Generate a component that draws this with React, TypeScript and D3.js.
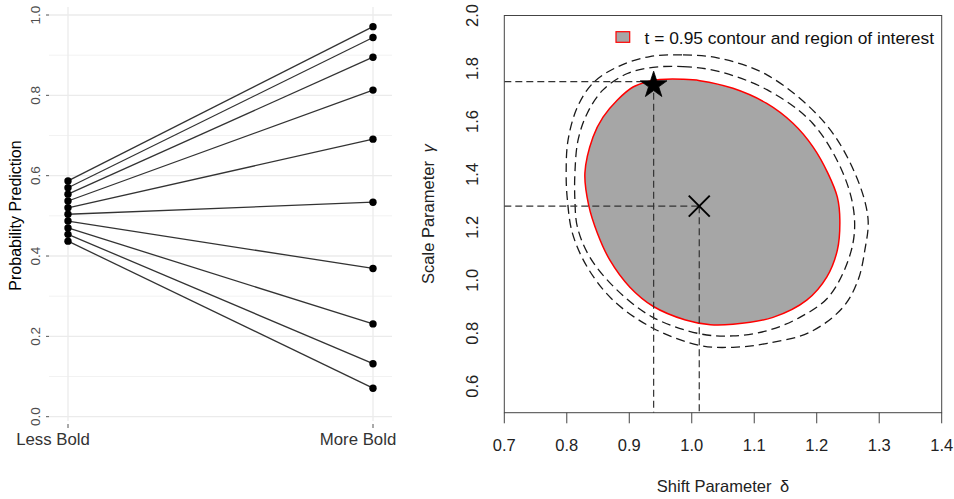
import React from 'react';
import * as d3 from 'd3';

// ---------- Left panel data ----------
const categories = ['Less Bold', 'More Bold'];
const lessBold = [0.587, 0.570, 0.554, 0.537, 0.520, 0.504, 0.487, 0.470, 0.454, 0.437];
const moreBold = [0.971, 0.944, 0.895, 0.813, 0.691, 0.534, 0.369, 0.231, 0.132, 0.071];
const leftMajorTicks = [0, 0.2, 0.4, 0.6, 0.8, 1.0];
const leftMinorTicks = [0.1, 0.3, 0.5, 0.7, 0.9];

// ---------- Right panel data ----------
const deltaTicks = [0.7, 0.8, 0.9, 1.0, 1.1, 1.2, 1.3, 1.4];
const gammaTicks = [0.6, 0.8, 1.0, 1.2, 1.4, 1.6, 1.8, 2.0];
const legendLabel = 't = 0.95 contour and region of interest';
const starPoint = [0.939, 1.75];
const crossPoint = [1.012, 1.28];

const redContour: [number, number][] = [
  [0.949, 1.758], [0.986, 1.759], [1.013, 1.754], [1.066, 1.725], [1.120, 1.668],
  [1.162, 1.593], [1.194, 1.504], [1.218, 1.404], [1.233, 1.314], [1.237, 1.227],
  [1.233, 1.114], [1.216, 1.012], [1.184, 0.925], [1.130, 0.860], [1.066, 0.834],
  [1.030, 0.832], [0.990, 0.850], [0.938, 0.902], [0.901, 0.974], [0.869, 1.076],
  [0.849, 1.178], [0.835, 1.284], [0.829, 1.405], [0.842, 1.541], [0.858, 1.616],
  [0.881, 1.681], [0.906, 1.730], [0.929, 1.750],
];
const innerContour: [number, number][] = [
  [0.938, 1.804], [0.986, 1.807], [1.041, 1.790], [1.121, 1.719], [1.193, 1.594],
  [1.242, 1.405], [1.260, 1.246], [1.255, 1.110], [1.220, 0.940],
  [1.173, 0.860], [1.121, 0.810], [1.066, 0.790], [1.013, 0.798], [0.938, 0.860],
  [0.881, 0.962], [0.837, 1.087], [0.817, 1.201], [0.813, 1.303], [0.813, 1.405],
  [0.818, 1.529], [0.833, 1.632], [0.858, 1.719], [0.897, 1.781],
];
const outerContour: [number, number][] = [
  [0.933, 1.845], [0.986, 1.851], [1.041, 1.840], [1.121, 1.775], [1.213, 1.594],
  [1.261, 1.405], [1.282, 1.235], [1.277, 1.114], [1.266, 1.000], [1.242, 0.898],
  [1.189, 0.804], [1.121, 0.762], [1.066, 0.747], [1.013, 0.754], [0.938, 0.819],
  [0.874, 0.925], [0.833, 1.049], [0.809, 1.178], [0.801, 1.303], [0.799, 1.405],
  [0.802, 1.529], [0.817, 1.654], [0.842, 1.745], [0.881, 1.806],
];

const FONT = "'Liberation Sans', Arial, Helvetica, sans-serif";

export default function App() {
  // Left scales
  const xL = d3.scalePoint<string>().domain(categories).range([68, 373]);
  const yL = d3.scaleLinear().domain([0, 1]).range([416.7, 15]);
  // Right scales
  const xR = d3.scaleLinear().domain([0.7, 1.4]).range([504.3, 941.7]);
  const yR = d3.scaleLinear().domain([0.5, 2.0]).range([412.7, 15.5]);

  const contourPath = d3
    .line<[number, number]>()
    .x((d) => xR(d[0]))
    .y((d) => yR(d[1]))
    .curve(d3.curveCatmullRomClosed.alpha(0.5));

  const fmt = d3.format('.1f');
  const starPath = d3.symbol().type(d3.symbolStar).size(220)() as string;

  const sx = xR(starPoint[0]);
  const sy = yR(starPoint[1]);
  const cx = xR(crossPoint[0]);
  const cy = yR(crossPoint[1]);
  const [bx0, bx1] = xR.range();
  const [by0, by1] = yR.range();

  return (
    <svg
      width={954}
      height={499}
      style={{ position: 'absolute', left: 0, top: 0, background: '#fff' }}
      fontFamily={FONT}
    >
      {/* ================= LEFT PANEL ================= */}
      <g>
        {leftMinorTicks.map((t) => (
          <line key={'mi' + t} x1={49} x2={392} y1={yL(t)} y2={yL(t)} stroke="#f2f2f2" strokeWidth={1} />
        ))}
        {leftMajorTicks.map((t) => (
          <line key={'ma' + t} x1={49} x2={392} y1={yL(t)} y2={yL(t)} stroke="#ebebeb" strokeWidth={1.3} />
        ))}
        {categories.map((c) => (
          <line key={'vg' + c} x1={xL(c)} x2={xL(c)} y1={7} y2={421} stroke="#ebebeb" strokeWidth={1.3} />
        ))}
        {leftMajorTicks.map((t) => (
          <g key={'yt' + t}>
            <line x1={46} x2={49} y1={yL(t)} y2={yL(t)} stroke="#555" strokeWidth={1} />
            <text
              transform={`translate(35,${yL(t)}) rotate(-90)`}
              textAnchor="middle"
              dominantBaseline="central"
              fontSize={13.5}
              fill="#4d4d4d"
            >
              {fmt(t)}
            </text>
          </g>
        ))}
        {categories.map((c) => (
          <g key={'xt' + c}>
            <line x1={xL(c)} x2={xL(c)} y1={424} y2={428} stroke="#555" strokeWidth={1} />
            <text x={(xL(c) as number) - 15} y={444.5} textAnchor="middle" fontSize={16.8} fill="#333">
              {c}
            </text>
          </g>
        ))}
        <text
          transform={`translate(15,215.5) rotate(-90)`}
          textAnchor="middle"
          dominantBaseline="central"
          fontSize={16}
          fill="#000"
        >
          Probability Prediction
        </text>
        {lessBold.map((v, i) => (
          <line
            key={'ln' + i}
            x1={xL(categories[0])}
            y1={yL(v)}
            x2={xL(categories[1])}
            y2={yL(moreBold[i])}
            stroke="#333"
            strokeWidth={1.3}
          />
        ))}
        {lessBold.map((v, i) => (
          <circle key={'pl' + i} cx={xL(categories[0])} cy={yL(v)} r={3.7} fill="#000" />
        ))}
        {moreBold.map((v, i) => (
          <circle key={'pr' + i} cx={xL(categories[1])} cy={yL(v)} r={3.7} fill="#000" />
        ))}
      </g>

      {/* ================= RIGHT PANEL ================= */}
      <g>
        <path d={contourPath(redContour) as string} fill="#a6a6a6" stroke="#ff0000" strokeWidth={1.5} />
        <path d={contourPath(innerContour) as string} fill="none" stroke="#1a1a1a" strokeWidth={1.3} strokeDasharray="9,5" />
        <path d={contourPath(outerContour) as string} fill="none" stroke="#1a1a1a" strokeWidth={1.3} strokeDasharray="9,5" />

        {/* reference lines */}
        <line x1={bx0} x2={sx} y1={sy} y2={sy} stroke="#333" strokeWidth={1.2} strokeDasharray="7,4" />
        <line x1={sx} x2={sx} y1={sy} y2={by0} stroke="#333" strokeWidth={1.2} strokeDasharray="7,4" />
        <line x1={bx0} x2={cx} y1={cy} y2={cy} stroke="#333" strokeWidth={1.2} strokeDasharray="7,4" />
        <line x1={cx} x2={cx} y1={cy} y2={by0} stroke="#333" strokeWidth={1.2} strokeDasharray="7,4" />

        {/* markers */}
        <path d={starPath} transform={`translate(${sx},${sy + 3.5})`} fill="#000" stroke="#000" strokeWidth={0.8} />
        <g stroke="#000" strokeWidth={2}>
          <line x1={cx - 10.5} x2={cx + 10.5} y1={cy - 10.5} y2={cy + 10.5} />
          <line x1={cx - 10.5} x2={cx + 10.5} y1={cy + 10.5} y2={cy - 10.5} />
        </g>

        {/* box */}
        <rect x={bx0} y={by1} width={bx1 - bx0} height={by0 - by1} fill="none" stroke="#444" strokeWidth={1} />

        {/* x axis */}
        {deltaTicks.map((t) => (
          <g key={'dx' + t}>
            <line x1={xR(t)} x2={xR(t)} y1={by0} y2={by0 + 10.6} stroke="#444" strokeWidth={1} />
            <text x={xR(t)} y={451.3} textAnchor="middle" fontSize={16.5} fill="#222">
              {fmt(t)}
            </text>
          </g>
        ))}
        {gammaTicks.map((t) => (
          <text
            key={'gy' + t}
            transform={`translate(472.4,${yR(t)}) rotate(-90)`}
            textAnchor="middle"
            dominantBaseline="central"
            fontSize={16.5}
            fill="#222"
          >
            {fmt(t)}
          </text>
        ))}
        <text x={(bx0 + bx1) / 2} y={492} textAnchor="middle" fontSize={16.5} fill="#222">
          Shift Parameter <tspan dx={4}>δ</tspan>
        </text>
        <text
          transform={`translate(428.3,${(by0 + by1) / 2}) rotate(-90)`}
          textAnchor="middle"
          dominantBaseline="central"
          fontSize={16.5}
          fill="#222"
        >
          Scale Parameter <tspan dx={4} fontStyle="italic">γ</tspan>
        </text>

        {/* legend */}
        <rect x={616} y={31.7} width={13.7} height={10.6} fill="#a6a6a6" stroke="#ff0000" strokeWidth={1.2} />
        <text x={644.5} y={43.5} fontSize={17.4} fill="#111">
          {legendLabel}
        </text>
      </g>
    </svg>
  );
}
